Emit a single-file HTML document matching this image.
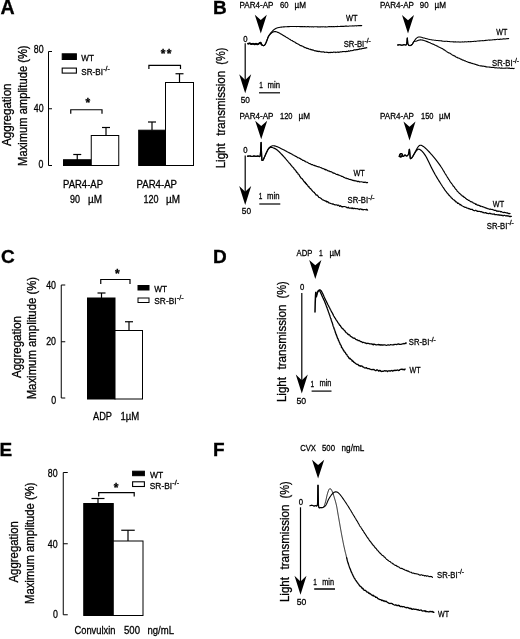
<!DOCTYPE html>
<html lang="en">
<head>
<meta charset="utf-8">
<title>Figure: SR-BI platelet aggregation</title>
<style>
html,body{margin:0;padding:0;background:#fff;}
body{width:520px;height:639px;overflow:hidden;}
svg{display:block;}
svg text{font-family:"Liberation Sans", sans-serif;fill:#000;stroke:#000;stroke-width:0.3px;}
</style>
</head>
<body>
<svg width="520" height="639" viewBox="0 0 520 639">
<rect x="0" y="0" width="520" height="639" fill="#fff"/>
<text x="0.6" y="14.2" font-size="19.6" font-weight="bold">A</text>
<text x="213.1" y="14.2" font-size="19" font-weight="bold">B</text>
<text x="0.9" y="263.1" font-size="19" font-weight="bold">C</text>
<text x="213.1" y="262.6" font-size="19" font-weight="bold">D</text>
<text x="-0.4" y="456" font-size="19" font-weight="bold">E</text>
<text x="213" y="455.7" font-size="19" font-weight="bold">F</text>
<path d="M52.0,51.5L48.5,51.5L48.5,165.5L52.0,165.5" fill="none" stroke="#000" stroke-width="1" stroke-linejoin="miter" stroke-linecap="butt"/>
<line x1="48.5" y1="108.75" x2="52.0" y2="108.75" stroke="#000" stroke-width="1"/>
<text x="43.6" y="53" font-size="10.7" text-anchor="end" textLength="9.8" lengthAdjust="spacingAndGlyphs">80</text>
<text x="43.6" y="112" font-size="10.7" text-anchor="end" textLength="9.8" lengthAdjust="spacingAndGlyphs">40</text>
<text x="43.4" y="168.4" font-size="10.7" text-anchor="end" textLength="4.9" lengthAdjust="spacingAndGlyphs">0</text>
<text transform="translate(11.3,114.7) rotate(-90)" font-size="12.5" text-anchor="middle" textLength="62.5" lengthAdjust="spacingAndGlyphs" xml:space="preserve">Aggregation</text>
<text transform="translate(27.4,105.65) rotate(-90)" font-size="12.5" text-anchor="middle" textLength="120.5" lengthAdjust="spacingAndGlyphs" xml:space="preserve">Maximum amplitude (%)</text>
<rect x="62.2" y="53.8" width="14.2" height="5.7" fill="#000" stroke="#000" stroke-width="1"/>
<rect x="62.2" y="68.1" width="14.2" height="5" fill="#fff" stroke="#000" stroke-width="1.1"/>
<text x="81.3" y="61" font-size="9.8" textLength="12.6" lengthAdjust="spacingAndGlyphs">WT</text>
<text x="81.3" y="74.6" font-size="9.8" textLength="21.66" lengthAdjust="spacingAndGlyphs">SR-BI</text>
<text x="103.25" y="70.88" font-size="7.45" textLength="6.56" lengthAdjust="spacingAndGlyphs">-/-</text>
<rect x="63.5" y="159.75" width="27.75" height="5.75" fill="#000" stroke="#000" stroke-width="1"/>
<rect x="91.25" y="135.5" width="27.5" height="30" fill="#fff" stroke="#000" stroke-width="1"/>
<line x1="77.25" y1="154.5" x2="77.25" y2="160" stroke="#000" stroke-width="1.2"/>
<line x1="73.25" y1="154.5" x2="81.25" y2="154.5" stroke="#000" stroke-width="1.2"/>
<line x1="106" y1="127.5" x2="106" y2="135.5" stroke="#000" stroke-width="1.2"/>
<line x1="102.0" y1="127.5" x2="110.0" y2="127.5" stroke="#000" stroke-width="1.2"/>
<path d="M70.75,113.75L70.75,109.75L102,109.75L102,113.75" fill="none" stroke="#000" stroke-width="1.2" stroke-linejoin="miter" stroke-linecap="butt"/>
<text x="87.8" y="107.1" font-size="12" font-weight="bold" text-anchor="middle">*</text>
<rect x="138.7" y="130.2" width="26.8" height="35.3" fill="#000" stroke="#000" stroke-width="1"/>
<rect x="165.5" y="82.5" width="28" height="83" fill="#fff" stroke="#000" stroke-width="1"/>
<line x1="152" y1="122" x2="152" y2="130" stroke="#000" stroke-width="1.2"/>
<line x1="148.0" y1="122" x2="156.0" y2="122" stroke="#000" stroke-width="1.2"/>
<line x1="179.5" y1="73.75" x2="179.5" y2="82.5" stroke="#000" stroke-width="1.2"/>
<line x1="175.5" y1="73.75" x2="183.5" y2="73.75" stroke="#000" stroke-width="1.2"/>
<path d="M148.9,69.1L148.9,65.3L180.5,65.3L180.5,69.1" fill="none" stroke="#000" stroke-width="1.2" stroke-linejoin="miter" stroke-linecap="butt"/>
<text x="163.2" y="58.0" font-size="12" font-weight="bold" text-anchor="middle">*</text>
<text x="169.2" y="58.0" font-size="12" font-weight="bold" text-anchor="middle">*</text>
<text x="63" y="187.5" font-size="11" textLength="40" lengthAdjust="spacingAndGlyphs">PAR4-AP</text>
<text x="70" y="202.5" font-size="11" textLength="10" lengthAdjust="spacingAndGlyphs">90</text>
<text x="88" y="202.5" font-size="11" textLength="14" lengthAdjust="spacingAndGlyphs">µM</text>
<text x="136.5" y="187.5" font-size="11" textLength="40.5" lengthAdjust="spacingAndGlyphs">PAR4-AP</text>
<text x="143.5" y="202.5" font-size="11" textLength="15" lengthAdjust="spacingAndGlyphs">120</text>
<text x="166" y="202.5" font-size="11" textLength="14" lengthAdjust="spacingAndGlyphs">µM</text>
<text transform="translate(224.7,168.3) rotate(-90)" font-size="13.6" textLength="25" lengthAdjust="spacingAndGlyphs">Light</text>
<text transform="translate(224.7,135.8) rotate(-90)" font-size="13.6" textLength="65" lengthAdjust="spacingAndGlyphs">transmission</text>
<text transform="translate(224.7,64.65) rotate(-90)" font-size="13.6" textLength="17.2" lengthAdjust="spacingAndGlyphs">(%)</text>
<text x="239.5" y="8.3" font-size="9.6" textLength="34" lengthAdjust="spacingAndGlyphs">PAR4-AP</text>
<text x="280" y="8.3" font-size="9.6" textLength="8.5" lengthAdjust="spacingAndGlyphs">60</text>
<text x="294.5" y="8.3" font-size="9.6" textLength="11.5" lengthAdjust="spacingAndGlyphs">µM</text>
<path d="M260.8,33.6L254.8,14.8L260.8,20.0L266.8,14.8Z" fill="#000"/>
<text x="247.6" y="41.5" font-size="8.5" text-anchor="end" textLength="4.3" lengthAdjust="spacingAndGlyphs">0</text>
<line x1="245.2" y1="43.3" x2="245.2" y2="81.0" stroke="#000" stroke-width="1.2"/>
<path d="M245.2,93.2L239.2,74.2L245.2,80.0L251.2,74.2Z" fill="#000"/>
<text x="240.7" y="102.5" font-size="9.6" textLength="9.2" lengthAdjust="spacingAndGlyphs">50</text>
<line x1="259" y1="92.8" x2="280" y2="92.8" stroke="#000" stroke-width="1.2"/>
<text x="259.3" y="87.6" font-size="9.6" textLength="3.6" lengthAdjust="spacingAndGlyphs">1</text>
<text x="267.5" y="87.6" font-size="9.6" textLength="12.5" lengthAdjust="spacingAndGlyphs">min</text>
<path d="M248.0,43.7L248.54,43.58L249.3,43.43L250.0,43.4L250.78,43.82L251.5,44.2L252.25,43.85L253.0,43.5L253.75,43.9L254.5,44.3L255.25,43.95L256.0,43.6L256.75,44.01L257.5,44.4L258.25,44.06L259.0,43.5L259.78,42.88L260.5,42.6L260.83,43.06L261.11,43.82L261.5,44.5L262.11,45.0L262.83,45.42L263.5,45.6L264.04,45.5L264.52,45.17L265.0,44.6L265.3,44.14L265.59,43.59L265.88,42.96L266.18,42.26L266.5,41.5L266.71,40.98L266.93,40.39L267.16,39.77L267.39,39.13L267.62,38.49L267.85,37.88L268.08,37.31L268.3,36.8L268.64,36.12L268.96,35.54L269.29,35.02L269.63,34.52L270.0,34.0L270.41,33.44L270.84,32.88L271.29,32.32L271.75,31.79L272.2,31.3L272.65,30.84L273.1,30.42L273.56,30.02L274.03,29.64L274.5,29.3L275.1,28.91L275.71,28.57L276.34,28.27L277.0,28.0L277.54,27.82L278.07,27.67L278.63,27.54L279.26,27.42L280.0,27.3L280.5,27.23L281.02,27.16L281.55,27.09L282.12,27.03L282.74,26.96L283.42,26.91L284.17,26.85L285.0,26.8L285.48,26.77L285.97,26.75L286.48,26.72L287.01,26.69L287.56,26.67L288.12,26.64L288.7,26.62L289.3,26.6L289.92,26.57L290.55,26.55L291.21,26.54L291.88,26.53L292.57,26.49L293.27,26.47L293.99,26.47L294.54,26.49L295.07,26.46L295.65,26.52L296.21,26.52L296.78,26.58L297.38,26.57L297.98,26.47L298.63,26.51L299.24,26.49L299.86,26.59L300.48,26.59L301.13,26.49L301.79,26.64L302.45,26.57L303.08,26.62L303.77,26.72L304.41,26.58L305.09,26.67L305.69,26.75L306.32,26.83L307.02,26.68L307.59,26.6L308.2,26.58L308.78,26.81L309.36,26.85L309.99,26.81L310.58,26.79L311.23,26.88L311.81,26.78L312.42,26.67L313.06,26.86L313.61,26.92L314.26,26.8L314.86,26.7L315.44,26.76L316.12,26.74L316.68,26.76L317.36,26.85L317.93,26.76L318.59,26.91L319.2,26.99L319.77,26.83L320.42,26.86L320.97,27.04L321.59,26.8L322.22,26.81L322.81,26.91L323.44,26.73L324.07,26.83L324.69,27.0L325.3,26.86L325.87,26.89L326.55,26.95L327.17,26.93L327.75,26.77L328.38,26.67L328.94,26.64L329.56,26.67L330.16,26.69L330.78,26.57L331.41,26.59L332.06,26.55L332.59,26.7L333.21,26.58L333.78,26.59L334.46,26.72L335.0,26.59L335.6,26.46L336.25,26.51L336.87,26.64L337.57,26.38L338.12,26.51L338.72,26.49L339.42,26.46L340.01,26.54L340.59,26.33L341.24,26.28L341.85,26.37L342.41,26.28L343.09,26.4L343.68,26.39L344.29,26.35L344.88,26.15L345.45,26.16L346.1,26.04L346.76,26.08L347.36,26.26L348.04,26.23L348.61,26.21L349.25,25.96L349.92,25.93L350.67,26.03L351.34,26.06L352.08,25.97L352.79,25.77L353.53,25.99L354.23,25.91L354.98,25.7L355.69,25.72L356.35,25.88L357.08,25.68L357.67,25.75L358.3,25.54L358.96,25.74L359.53,25.49L360.05,25.72L360.53,25.51L360.92,25.42L361.37,25.66L361.74,25.51" fill="none" stroke="#000" stroke-width="1.1" stroke-linejoin="round" stroke-linecap="round"/>
<path d="M248.0,43.7L248.54,43.58L249.3,43.43L250.0,43.4L250.78,43.82L251.5,44.2L252.25,43.85L253.0,43.5L253.75,43.9L254.5,44.3L255.25,43.95L256.0,43.6L256.75,44.01L257.5,44.4L258.25,44.06L259.0,43.5L259.78,42.88L260.5,42.6L260.83,43.06L261.11,43.82L261.5,44.5L262.11,45.0L262.83,45.42L263.5,45.6L264.04,45.5L264.52,45.17L265.0,44.6L265.3,44.14L265.59,43.59L265.88,42.96L266.18,42.26L266.5,41.5L266.71,40.97L266.93,40.38L267.16,39.75L267.39,39.1L267.62,38.46L267.85,37.84L268.08,37.28L268.3,36.8L268.73,36.05L269.14,35.48L269.56,34.99L270.0,34.5L270.48,33.97L270.98,33.46L271.49,33.0L272.0,32.6L272.63,32.18L273.26,31.87L274.0,31.7L274.49,31.64L274.98,31.59L275.54,31.61L276.19,31.74L277.0,32.0L277.41,32.17L277.84,32.36L278.28,32.57L278.75,32.81L279.24,33.07L279.77,33.35L280.32,33.66L280.92,34.0L281.56,34.37L282.26,34.77L283.0,35.2L283.42,35.44L283.85,35.7L284.31,35.97L284.79,36.26L285.29,36.56L285.79,36.88L286.31,37.18L286.85,37.5L287.39,37.83L287.96,38.14L288.5,38.51L289.08,38.88L289.64,39.2L290.19,39.56L290.71,39.9L291.28,40.22L291.89,40.43L292.41,40.79L292.96,41.27L293.48,41.45L294.03,41.82L294.57,41.97L295.1,42.33L295.68,42.87L296.27,43.09L296.78,43.57L297.34,43.74L297.91,43.99L298.44,44.27L299.05,44.58L299.59,45.0L300.03,45.44L300.7,45.5L301.1,45.95L301.7,45.79L302.22,46.03L302.85,46.29L303.45,46.98L303.98,46.85L304.44,47.4L305.15,47.77L305.72,47.6L306.21,47.94L306.85,48.51L307.36,48.24L307.92,48.66L308.5,48.68L309.04,49.2L309.7,49.29L310.26,49.16L310.88,49.71L311.55,49.56L312.13,50.16L312.59,49.92L313.26,50.04L313.72,50.34L314.43,50.58L314.89,50.96L315.58,50.69L316.17,51.08L316.68,50.93L317.36,51.41L318.07,51.15L318.66,51.6L319.29,51.36L319.9,51.44L320.42,51.76L321.13,51.89L321.6,51.79L322.23,52.01L322.83,51.82L323.45,51.84L324.09,52.05L324.71,52.37L325.31,52.26L325.91,52.21L326.51,52.19L327.21,52.51L327.8,52.21L328.34,52.68L329.01,52.62L329.69,52.44L330.24,52.39L330.94,52.57L331.53,52.36L332.11,52.58L332.67,52.39L333.25,52.17L333.97,52.16L334.49,52.25L335.22,52.13L335.81,52.58L336.34,52.2L336.99,52.18L337.6,52.06L338.31,52.09L338.85,52.47L339.54,51.99L340.04,51.98L340.66,51.75L341.3,51.97L341.92,51.75L342.49,51.57L343.13,51.56L343.67,51.46L344.32,51.55L344.99,51.65L345.62,51.67L346.26,51.57L346.77,51.3L347.34,51.57L348.03,51.33L348.69,50.83L349.29,51.25L349.97,51.05L350.55,50.59L351.25,50.69L351.89,50.76L352.53,50.51L353.13,50.45L353.64,50.06L354.33,49.88L355.03,49.74L355.6,49.9L356.22,49.82L356.69,49.62L357.41,49.69L357.94,49.41L358.42,49.4L359.14,49.31L359.84,48.79L360.54,49.05L361.38,48.92L361.98,48.64L362.72,48.5L363.38,48.54L363.92,48.34L364.56,47.93L365.14,48.18L365.61,47.97L366.12,47.58L366.6,47.87L366.86,47.81" fill="none" stroke="#000" stroke-width="1.15" stroke-linejoin="round" stroke-linecap="round"/>
<path d="M248,43.7C248.33,43.65 249.42,43.32 250,43.4C250.58,43.48 251.00,44.18 251.5,44.2C252.00,44.22 252.50,43.48 253,43.5C253.50,43.52 254.00,44.28 254.5,44.3C255.00,44.32 255.50,43.58 256,43.6C256.50,43.62 257.00,44.42 257.5,44.4C258.00,44.38 258.50,43.80 259,43.5C259.50,43.20 260.08,42.43 260.5,42.6C260.92,42.77 261.33,44.18 261.5,44.5" fill="none" stroke="#000" stroke-width="1.7" stroke-linejoin="round" stroke-linecap="round"/>
<text x="346" y="20.9" font-size="9.6" textLength="11.5" lengthAdjust="spacingAndGlyphs">WT</text>
<text x="343.7" y="46.6" font-size="9.6" textLength="20.52" lengthAdjust="spacingAndGlyphs">SR-BI</text>
<text x="364.49" y="42.88" font-size="6.84" textLength="6.21" lengthAdjust="spacingAndGlyphs">-/-</text>
<text x="380" y="8.3" font-size="9.6" textLength="34" lengthAdjust="spacingAndGlyphs">PAR4-AP</text>
<text x="419.8" y="8.3" font-size="9.6" textLength="8.8" lengthAdjust="spacingAndGlyphs">90</text>
<text x="434.5" y="8.3" font-size="9.6" textLength="11.5" lengthAdjust="spacingAndGlyphs">µM</text>
<path d="M408,33.6L402.0,15.0L408,20.2L414.0,15.0Z" fill="#000"/>
<path d="M397.5,45.0L397.96,44.95L398.62,44.88L399.35,44.81L400.0,44.8L400.7,44.92L401.35,45.11L402.0,45.2L402.67,45.07L403.33,44.84L404.0,44.7L404.71,44.83L405.42,45.04L406.0,45.0L406.37,44.61L406.6,43.97L406.8,43.0L406.88,42.45L406.95,41.73L407.01,40.91L407.07,40.06L407.13,39.27L407.18,38.62L407.24,38.17L407.3,38.0L407.36,38.17L407.42,38.62L407.48,39.27L407.54,40.06L407.6,40.91L407.66,41.73L407.73,42.45L407.8,43.0L407.99,43.94L408.2,44.55L408.5,45.0L409.17,45.49L410.0,45.6L410.63,45.43L411.31,45.07L412.0,44.5L412.33,44.11L412.67,43.64L413.0,43.11L413.33,42.56L413.67,42.02L414.0,41.5L414.39,40.89L414.78,40.27L415.16,39.66L415.57,39.1L416.0,38.6L416.59,38.07L417.22,37.61L417.86,37.24L418.5,37.0L419.09,36.9L419.66,36.93L420.27,37.04L421.0,37.2L421.56,37.33L422.15,37.49L422.78,37.68L423.46,37.88L424.2,38.09L425.0,38.3L425.51,38.43L426.02,38.57L426.56,38.71L427.11,38.85L427.69,39.0L428.29,39.15L428.92,39.29L429.58,39.43L430.27,39.57L431.0,39.7L431.51,39.79L432.05,39.88L432.59,39.92L433.17,40.04L433.74,40.1L434.35,40.15L434.95,40.22L435.56,40.28L436.17,40.45L436.82,40.51L437.46,40.59L438.11,40.56L438.7,40.67L439.36,40.64L439.99,40.79L440.59,40.78L441.23,40.88L441.83,40.86L442.4,41.11L443.07,41.2L443.66,41.25L444.3,41.16L444.95,41.39L445.56,41.25L446.17,41.28L446.87,41.27L447.52,41.37L448.09,41.4L448.72,41.52L449.41,41.52L450.03,41.72L450.66,41.68L451.25,41.81L451.83,41.78L452.5,41.82L453.14,41.86L453.71,41.75L454.34,41.97L454.99,41.87L455.65,41.84L456.23,42.07L456.86,41.99L457.49,41.98L458.09,41.88L458.79,41.9L459.35,42.0L460.04,42.12L460.59,41.98L461.21,41.9L461.84,41.93L462.48,41.89L463.16,41.97L463.74,42.0L464.38,41.87L464.99,41.83L465.6,41.71L466.22,41.95L466.89,41.78L467.47,41.85L468.1,41.64L468.75,41.64L469.41,41.77L469.96,41.71L470.64,41.43L471.22,41.65L471.77,41.52L472.44,41.43L473.02,41.52L473.55,41.52L474.13,41.22L474.77,41.31L475.37,41.39L475.98,41.26L476.58,41.15L477.24,40.98L477.92,40.99L478.54,41.06L479.24,40.85L480.02,40.94L480.49,40.74L481.08,40.82L481.6,40.73L482.15,40.75L482.76,40.61L483.37,40.76L483.94,40.68L484.53,40.44L485.18,40.6L485.73,40.35L486.42,40.35L487.0,40.27L487.7,40.29L488.25,40.1L488.92,40.08L489.54,40.13L490.23,40.11L490.82,39.96L491.46,40.05L492.09,39.95L492.77,39.72L493.42,39.69L493.97,39.7L494.6,39.57L495.28,39.65L495.89,39.44L496.61,39.41L497.21,39.34L497.94,39.26L498.69,39.46L499.41,39.36L500.06,39.36L500.82,39.08L501.44,39.2L502.16,39.12L502.84,38.99L503.48,38.88L504.15,38.86L504.76,39.02L505.37,38.98L505.99,38.75L506.5,38.85L507.0,38.58L507.51,38.65L507.88,38.56L508.23,38.74L508.63,38.57" fill="none" stroke="#000" stroke-width="1.05" stroke-linejoin="round" stroke-linecap="round"/>
<path d="M397.5,45.0L397.96,44.95L398.62,44.88L399.35,44.81L400.0,44.8L400.7,44.92L401.35,45.11L402.0,45.2L402.67,45.07L403.33,44.84L404.0,44.7L404.71,44.83L405.42,45.04L406.0,45.0L406.37,44.61L406.6,43.97L406.8,43.0L406.88,42.45L406.95,41.73L407.01,40.91L407.07,40.06L407.13,39.27L407.18,38.62L407.24,38.17L407.3,38.0L407.36,38.17L407.42,38.62L407.48,39.27L407.54,40.06L407.6,40.91L407.66,41.73L407.73,42.45L407.8,43.0L407.99,43.94L408.2,44.55L408.5,45.0L409.17,45.49L410.0,45.6L410.63,45.43L411.31,45.07L412.0,44.5L412.33,44.08L412.67,43.54L413.0,42.94L413.33,42.36L413.67,41.86L414.0,41.5L414.65,41.26L415.3,41.32L416.0,41.3L416.59,41.09L417.22,40.81L417.86,40.53L418.5,40.3L419.11,40.13L419.72,40.0L420.34,39.92L421.0,39.9L421.52,39.93L422.02,39.99L422.56,40.09L423.2,40.26L424.0,40.5L424.46,40.65L424.94,40.81L425.45,40.99L425.99,41.18L426.56,41.39L427.17,41.63L427.81,41.88L428.5,42.16L429.22,42.47L430.0,42.8L430.45,42.99L430.93,43.22L431.44,43.44L431.95,43.65L432.49,43.93L433.04,44.12L433.59,44.37L434.18,44.58L434.76,44.98L435.31,45.27L435.92,45.41L436.55,45.85L437.09,46.01L437.7,46.3L438.26,46.73L438.89,47.0L439.46,47.3L439.98,47.54L440.51,47.72L441.01,48.18L441.61,48.27L442.05,48.59L442.64,48.81L443.22,49.25L443.75,49.82L444.15,49.86L444.74,50.1L445.26,50.73L445.78,50.82L446.34,51.35L446.89,51.74L447.31,52.02L447.86,52.43L448.4,52.61L448.9,53.01L449.44,53.07L450.06,53.33L450.53,53.85L451.18,54.07L451.63,54.44L452.25,54.9L452.72,55.3L453.38,55.35L453.95,55.84L454.41,55.75L454.95,56.08L455.57,56.81L456.09,57.08L456.66,57.34L457.26,57.32L457.72,57.95L458.35,58.05L458.87,58.13L459.4,58.36L460.01,58.68L460.54,59.15L461.15,59.09L461.72,59.69L462.31,59.76L462.95,60.26L463.47,60.14L464.13,60.55L464.64,60.91L465.32,60.9L465.85,61.26L466.54,61.43L467.07,61.66L467.63,61.9L468.31,62.36L468.78,62.32L469.37,62.71L470.06,62.55L470.64,62.96L471.23,63.14L471.71,63.36L472.36,63.32L473.0,63.82L473.55,63.72L474.12,64.03L474.67,64.09L475.36,64.44L475.88,64.4L476.54,64.9L477.0,64.75L477.72,65.27L478.17,65.18L478.81,65.55L479.43,65.67L479.95,65.76L480.58,65.88L481.3,65.82L481.83,66.15L482.48,65.96L483.11,66.22L483.71,66.13L484.43,66.54L485.01,66.3L485.56,66.75L486.19,66.88L486.88,66.85L487.47,66.95L488.14,66.93L488.77,67.01L489.37,67.1L490.02,66.96L490.58,67.27L491.26,67.47L491.77,67.38L492.34,67.45L492.97,67.34L493.56,67.37L494.08,67.63L494.67,67.74L495.38,67.84L495.88,67.77L496.55,67.81L497.15,68.07L497.94,68.06L498.6,68.04L499.33,67.81L500.07,68.0L500.5,68.23L501.2,68.19L501.73,67.86L502.35,68.23L503.04,68.32L503.71,68.3L504.53,68.17L505.15,68.04L505.89,68.21L506.59,67.99L507.43,68.07L508.14,68.35L508.83,68.11L509.48,68.1L510.12,68.37L510.8,68.51L511.46,68.37L512.05,68.15L512.5,68.42L512.98,68.52L513.48,68.63L513.9,68.32L514.15,68.37" fill="none" stroke="#000" stroke-width="1.1" stroke-linejoin="round" stroke-linecap="round"/>
<text x="496.25" y="35.3" font-size="9.6" textLength="11" lengthAdjust="spacingAndGlyphs">WT</text>
<text x="492" y="66.3" font-size="9.6" textLength="20.52" lengthAdjust="spacingAndGlyphs">SR-BI</text>
<text x="512.79" y="62.58" font-size="6.84" textLength="6.21" lengthAdjust="spacingAndGlyphs">-/-</text>
<text x="239.5" y="118.8" font-size="9.6" textLength="34" lengthAdjust="spacingAndGlyphs">PAR4-AP</text>
<text x="280" y="118.8" font-size="9.6" textLength="12.5" lengthAdjust="spacingAndGlyphs">120</text>
<text x="298.5" y="118.8" font-size="9.6" textLength="11.5" lengthAdjust="spacingAndGlyphs">µM</text>
<path d="M261.2,139.3L255.2,120.80000000000001L261.2,126.00000000000001L267.2,120.80000000000001Z" fill="#000"/>
<text x="247.6" y="153.4" font-size="8.5" text-anchor="end" textLength="4.3" lengthAdjust="spacingAndGlyphs">0</text>
<line x1="245.2" y1="155.5" x2="245.2" y2="192.8" stroke="#000" stroke-width="1.2"/>
<path d="M245.2,205L239.2,186L245.2,191.8L251.2,186Z" fill="#000"/>
<text x="241.8" y="214.4" font-size="9.6" textLength="9.2" lengthAdjust="spacingAndGlyphs">50</text>
<line x1="259.3" y1="204" x2="280.3" y2="204" stroke="#000" stroke-width="1.2"/>
<text x="258.7" y="199.0" font-size="9.6" textLength="3.6" lengthAdjust="spacingAndGlyphs">1</text>
<text x="267" y="199.0" font-size="9.6" textLength="12.5" lengthAdjust="spacingAndGlyphs">min</text>
<path d="M247.5,156.2L247.96,156.15L248.62,156.07L249.35,156.01L250.0,156.0L250.7,156.15L251.35,156.38L252.0,156.5L252.67,156.37L253.33,156.14L254.0,156.0L254.67,156.1L255.33,156.29L256.0,156.4L256.67,156.3L257.33,156.12L258.0,156.0L258.71,156.26L259.43,156.59L260.0,156.2L260.12,155.85L260.23,155.39L260.31,154.85L260.39,154.24L260.45,153.58L260.5,152.88L260.55,152.16L260.6,151.43L260.65,150.7L260.7,150.0L260.74,149.37L260.78,148.63L260.82,147.82L260.86,146.97L260.89,146.11L260.92,145.27L260.95,144.49L260.98,143.79L261.01,143.21L261.04,142.78L261.07,142.53L261.1,142.5L261.13,142.64L261.15,142.92L261.18,143.33L261.2,143.84L261.23,144.44L261.26,145.12L261.28,145.86L261.31,146.65L261.33,147.46L261.36,148.28L261.39,149.1L261.41,149.89L261.44,150.65L261.47,151.36L261.5,152.0L261.53,152.66L261.56,153.34L261.59,154.05L261.62,154.76L261.65,155.47L261.68,156.17L261.71,156.86L261.75,157.53L261.78,158.15L261.82,158.74L261.86,159.28L261.9,159.76L261.95,160.17L262.0,160.5L263.0,160.2L263.26,159.77L263.54,159.19L263.84,158.51L264.16,157.77L264.5,157.0L264.72,156.5L264.95,155.97L265.19,155.41L265.44,154.83L265.69,154.24L265.95,153.66L266.22,153.07L266.5,152.5L266.78,151.92L267.07,151.32L267.36,150.71L267.66,150.11L267.97,149.52L268.29,148.96L268.64,148.45L269.0,148.0L269.53,147.47L270.09,147.0L270.69,146.59L271.3,146.25L271.91,145.98L272.5,145.8L273.19,145.71L273.88,145.75L274.56,145.88L275.27,146.08L276.0,146.3L276.49,146.45L276.93,146.6L277.36,146.76L277.84,146.96L278.41,147.22L279.11,147.56L280.0,148.0L280.41,148.2L280.85,148.42L281.32,148.66L281.82,148.91L282.34,149.18L282.89,149.46L283.45,149.75L284.03,150.05L284.62,150.36L285.23,150.68L285.83,151.0L286.45,151.32L287.06,151.64L287.65,151.94L288.25,152.21L288.85,152.61L289.46,152.9L289.98,153.13L290.49,153.52L291.04,153.65L291.57,153.95L292.11,154.27L292.6,154.67L293.16,154.97L293.73,155.1L294.17,155.43L294.75,155.66L295.3,156.26L295.76,156.36L296.34,156.48L296.82,157.02L297.36,157.35L297.93,157.8L298.49,157.72L298.95,157.89L299.43,158.37L300.05,158.44L300.56,158.7L301.05,159.55L301.69,159.4L302.25,159.87L302.72,160.35L303.3,160.33L303.96,160.47L304.48,161.19L305.06,161.01L305.55,161.73L306.1,162.01L306.6,161.98L307.14,162.25L307.82,162.58L308.4,163.06L308.85,163.33L309.43,163.48L310.0,163.87L310.61,163.81L311.13,164.48L311.68,164.67L312.31,164.53L313.02,165.05L313.5,165.27L314.09,165.57L314.78,165.4L315.33,165.85L315.97,166.08L316.53,166.17L317.12,166.52L317.69,166.58L318.2,166.88L318.85,166.88L319.49,167.02L319.91,167.29L320.67,167.49L321.11,167.87L321.68,167.91L322.38,168.54L322.98,168.77L323.55,168.63L324.17,169.04L324.78,169.55L325.36,169.33L325.96,170.08L326.42,169.83L326.98,170.07L327.7,170.75L328.29,170.86L328.79,171.1L329.34,171.02L329.95,171.65L330.54,171.62L331.07,171.67L331.71,172.06L332.19,172.35L332.78,172.94L333.35,173.11L333.87,172.86L334.49,173.34L335.04,173.52L335.5,173.87L336.04,174.3L336.61,174.51L337.17,174.26L337.86,174.95L338.33,174.72L338.94,175.24L339.44,175.29L340.06,175.61L340.67,175.79L341.13,176.04L341.76,176.53L342.38,176.42L342.99,176.64L343.58,177.25L344.09,177.44L344.69,177.54L345.22,178.07L345.8,178.3L346.43,178.11L347.06,178.75L347.72,178.65L348.23,178.76L348.87,179.14L349.44,179.47L349.97,179.41L350.65,179.47L351.24,179.95L351.79,179.82L352.42,180.34L353.01,180.11L353.58,180.72L354.21,180.45L354.91,180.9L355.4,180.7L356.03,180.89L356.59,181.18L357.19,181.18L357.86,181.69L358.47,181.27L358.92,181.37L359.53,182.0L359.99,181.94L360.76,181.73L361.43,181.78L362.14,182.04L363.02,182.12L363.68,182.36L364.37,182.37L365.05,182.12L365.69,182.32L366.2,182.66L366.76,182.49L367.1,182.42L367.57,182.63" fill="none" stroke="#000" stroke-width="1.15" stroke-linejoin="round" stroke-linecap="round"/>
<path d="M247.5,156.2L247.96,156.15L248.62,156.07L249.35,156.01L250.0,156.0L250.7,156.15L251.35,156.38L252.0,156.5L252.67,156.37L253.33,156.14L254.0,156.0L254.67,156.1L255.33,156.29L256.0,156.4L256.67,156.3L257.33,156.12L258.0,156.0L258.71,156.26L259.43,156.59L260.0,156.2L260.12,155.85L260.23,155.39L260.31,154.85L260.39,154.24L260.45,153.58L260.5,152.88L260.55,152.16L260.6,151.43L260.65,150.7L260.7,150.0L260.74,149.37L260.78,148.63L260.82,147.82L260.86,146.97L260.89,146.11L260.92,145.27L260.95,144.49L260.98,143.79L261.01,143.21L261.04,142.78L261.07,142.53L261.1,142.5L261.13,142.64L261.15,142.92L261.18,143.33L261.2,143.84L261.23,144.44L261.26,145.12L261.28,145.86L261.31,146.65L261.33,147.46L261.36,148.28L261.39,149.1L261.41,149.89L261.44,150.65L261.47,151.36L261.5,152.0L261.53,152.66L261.56,153.34L261.59,154.05L261.62,154.76L261.65,155.47L261.68,156.17L261.71,156.86L261.75,157.53L261.78,158.15L261.82,158.74L261.86,159.28L261.9,159.76L261.95,160.17L262.0,160.5L263.0,160.2L263.26,159.77L263.54,159.19L263.84,158.51L264.16,157.77L264.5,157.0L264.73,156.49L264.96,155.95L265.21,155.37L265.47,154.78L265.73,154.19L265.99,153.6L266.25,153.03L266.5,152.5L266.79,151.91L267.07,151.31L267.36,150.73L267.64,150.18L267.93,149.66L268.21,149.2L268.5,148.8L269.15,148.13L269.8,147.73L270.5,147.5L271.04,147.41L271.59,147.41L272.22,147.53L273.0,147.8L273.45,147.97L273.91,148.15L274.41,148.35L274.94,148.59L275.5,148.88L276.12,149.26L276.78,149.72L277.5,150.3L277.86,150.61L278.23,150.94L278.61,151.29L279.01,151.66L279.41,152.05L279.82,152.46L280.25,152.89L280.69,153.33L281.13,153.79L281.58,154.26L282.05,154.76L282.52,155.26L283.0,155.78L283.49,156.32L283.98,156.87L284.49,157.43L285.0,158.0L285.34,158.39L285.69,158.79L286.04,159.17L286.4,159.57L286.77,160.06L287.13,160.48L287.51,160.9L287.89,161.38L288.3,161.85L288.68,162.2L289.05,162.82L289.49,163.22L289.85,163.55L290.27,164.06L290.64,164.83L291.05,164.99L291.47,165.66L291.86,166.14L292.24,166.78L292.71,167.06L293.07,167.44L293.48,168.02L293.92,168.35L294.14,168.96L294.59,169.38L294.98,169.68L295.43,170.42L295.72,170.84L296.21,171.22L296.54,172.25L296.99,172.17L297.24,172.79L297.76,173.06L298.11,174.13L298.48,174.32L298.97,174.59L299.27,175.19L299.71,176.13L299.94,176.28L300.27,176.85L300.73,177.63L301.08,178.13L301.46,178.14L301.83,178.67L302.37,178.73L302.62,179.49L303.07,179.98L303.5,180.58L303.8,181.28L304.34,182.01L304.71,181.6L305.09,182.91L305.52,182.63L305.7,183.62L306.4,183.49L306.62,184.63L307.02,184.58L307.64,185.21L307.89,185.82L308.51,186.87L308.98,186.62L309.38,187.55L309.84,188.1L310.26,188.69L310.64,188.58L311.08,189.38L311.55,189.75L311.78,190.31L312.16,190.44L312.54,191.13L312.97,191.53L313.48,191.96L313.98,192.41L314.36,192.27L314.65,193.11L315.1,193.67L315.51,193.89L315.93,194.97L316.6,195.11L317.08,194.94L317.66,196.01L318.14,196.06L318.45,196.62L318.77,197.37L319.39,197.54L319.91,197.49L320.23,197.84L320.76,198.32L321.11,198.31L321.6,198.83L321.97,199.53L322.47,199.83L323.0,199.86L323.77,200.19L324.27,200.64L324.67,200.61L325.3,200.85L325.9,201.45L326.44,201.1L326.95,202.19L327.45,201.59L328.01,201.78L328.74,202.94L329.43,202.91L330.03,203.41L330.56,203.31L331.09,203.58L331.53,203.75L332.17,203.93L332.64,204.21L333.21,203.82L334.06,204.6L334.5,204.66L335.23,205.01L335.69,204.92L336.35,204.84L336.96,205.02L337.72,205.52L338.22,205.09L338.69,205.24L339.43,206.16L339.98,206.42L340.59,205.67L341.38,206.4L341.87,206.93L342.38,206.5L343.04,206.87L343.6,206.51L344.43,206.49L345.14,206.73L345.74,206.82L346.11,206.98L346.8,207.69L347.41,207.81L348.21,207.24L348.86,208.01L349.25,208.13L350.06,208.13L350.76,208.06L351.41,207.95L351.76,208.5L352.6,207.89L353.08,208.77L353.93,208.35L354.62,208.28L355.02,208.67L355.82,208.63L356.49,208.77L357.15,208.54L357.72,208.82L358.26,209.15L358.96,208.97L359.53,209.59L359.94,209.27L360.88,208.83L361.58,209.54L362.26,209.24L363.06,209.94L363.62,209.62L364.49,209.5L365.09,209.5L365.77,209.77L366.15,210.01L366.64,209.24L367.17,209.7L367.62,210.12" fill="none" stroke="#000" stroke-width="1.2" stroke-linejoin="round" stroke-linecap="round"/>
<text x="353.5" y="175.7" font-size="9.6" textLength="11.3" lengthAdjust="spacingAndGlyphs">WT</text>
<text x="347.5" y="203.3" font-size="9.6" textLength="20.52" lengthAdjust="spacingAndGlyphs">SR-BI</text>
<text x="368.29" y="199.58" font-size="6.84" textLength="6.21" lengthAdjust="spacingAndGlyphs">-/-</text>
<text x="380" y="118.8" font-size="9.6" textLength="34" lengthAdjust="spacingAndGlyphs">PAR4-AP</text>
<text x="421" y="118.8" font-size="9.6" textLength="12.5" lengthAdjust="spacingAndGlyphs">150</text>
<text x="439" y="118.8" font-size="9.6" textLength="11.5" lengthAdjust="spacingAndGlyphs">µM</text>
<path d="M409.5,140.4L403.5,121.5L409.5,126.7L415.5,121.5Z" fill="#000"/>
<path d="M399.2,156.5L399.33,156.05L399.51,155.39L399.73,154.71L400.0,154.2L400.73,153.67L401.5,153.6L402.22,154.15L402.6,155.0L402.35,155.64L401.84,156.33L401.3,156.8L400.33,156.86L399.8,156.6L400.29,156.33L401.18,155.99L402.0,155.8L402.79,156.08L403.5,156.3L404.0,155.91L404.5,155.33L405.0,155.0L405.51,155.23L406.01,155.71L406.5,156.0L407.18,155.8L407.8,155.2L408.08,154.78L408.34,154.28L408.59,153.69L408.8,153.0L408.92,152.37L409.03,151.57L409.13,150.72L409.22,149.97L409.31,149.45L409.4,149.3L409.48,149.53L409.55,150.03L409.62,150.73L409.69,151.55L409.76,152.42L409.83,153.26L409.9,154.0L409.97,154.71L410.03,155.47L410.09,156.24L410.16,156.98L410.23,157.65L410.31,158.21L410.4,158.6L411.3,158.2L411.75,157.86L412.3,157.2L412.59,156.74L412.92,156.18L413.26,155.55L413.63,154.88L414.0,154.2L414.27,153.71L414.55,153.19L414.84,152.65L415.13,152.11L415.42,151.56L415.71,151.02L416.0,150.5L416.33,149.88L416.67,149.25L417.0,148.62L417.33,148.03L417.67,147.48L418.0,147.0L418.49,146.39L418.97,145.89L419.46,145.52L420.0,145.3L420.57,145.24L421.17,145.33L421.81,145.56L422.5,145.9L422.92,146.15L423.36,146.45L423.81,146.79L424.28,147.16L424.77,147.57L425.27,148.02L425.8,148.5L426.18,148.85L426.55,149.21L426.94,149.58L427.33,149.97L427.73,150.38L428.15,150.8L428.58,151.26L429.03,151.74L429.5,152.25L430.0,152.8L430.35,153.19L430.71,153.59L431.09,154.02L431.48,154.45L431.89,154.91L432.29,155.37L432.71,155.85L433.13,156.33L433.55,156.82L433.97,157.31L434.39,157.81L434.8,158.31L435.21,158.81L435.61,159.31L436.0,159.8L436.38,160.29L436.76,160.79L437.14,161.29L437.52,161.79L437.89,162.29L438.26,162.8L438.63,163.31L439.0,163.83L439.36,164.34L439.72,164.86L440.08,165.38L440.44,165.92L440.79,166.44L441.15,166.99L441.51,167.51L441.82,167.99L442.16,168.52L442.47,168.99L442.77,169.6L443.1,170.08L443.39,170.58L443.72,171.07L444.02,171.69L444.34,172.08L444.61,172.75L444.97,173.23L445.25,173.83L445.56,174.25L445.84,174.69L446.2,175.2L446.51,175.76L446.84,176.31L447.14,176.77L447.52,177.61L447.9,177.83L448.19,178.63L448.57,179.1L448.88,179.61L449.35,179.94L449.64,180.84L449.96,181.23L450.33,181.85L450.72,182.45L451.1,182.89L451.29,183.09L451.65,183.54L452.01,184.01L452.53,184.8L452.92,185.26L453.13,186.05L453.56,186.36L454.03,186.54L454.32,187.11L454.77,187.84L455.01,188.33L455.33,188.63L455.87,189.44L456.03,189.37L456.47,189.83L457.01,190.78L457.22,191.21L457.75,191.63L458.18,191.97L458.39,191.98L458.95,192.9L459.23,193.27L459.76,193.65L460.15,193.76L460.64,194.34L461.23,194.99L461.63,195.15L462.03,195.81L462.52,196.19L463.14,196.09L463.62,196.59L464.11,197.42L464.53,197.3L465.15,197.65L465.62,198.56L466.1,198.67L466.67,199.31L467.15,199.55L467.69,199.63L468.35,200.34L468.97,200.29L469.43,200.71L469.95,200.96L470.49,201.73L471.05,201.56L471.68,201.95L472.24,202.08L472.77,202.32L473.18,203.02L473.75,203.15L474.29,203.26L475.02,203.59L475.57,204.28L476.01,203.9L476.53,204.7L477.14,204.82L477.65,205.23L478.28,205.34L478.78,205.1L479.45,205.81L479.99,205.58L480.53,206.32L481.1,206.3L481.82,206.25L482.29,206.83L482.85,206.6L483.53,207.17L484.06,207.13L484.75,207.56L485.31,207.89L485.79,207.65L486.45,208.21L486.97,208.38L487.61,208.62L488.31,208.82L488.72,208.75L489.41,209.22L489.95,209.36L490.66,209.05L491.11,209.34L491.78,209.51L492.36,209.41L492.94,209.87L493.57,209.8L494.19,210.43L494.75,210.23L495.35,210.42L495.96,210.34L496.47,211.1L497.07,210.94L497.55,211.09L498.18,211.53L498.74,211.11L499.48,211.29L499.92,211.27L500.58,211.88L501.34,211.55L502.02,212.09L502.65,212.32L503.51,212.59L504.11,212.16L504.91,212.61L505.55,212.6L506.24,212.82L507.06,213.08L507.63,212.89L508.13,213.42L508.84,213.58L509.21,213.37L509.66,213.77L510.09,213.53" fill="none" stroke="#000" stroke-width="1.15" stroke-linejoin="round" stroke-linecap="round"/>
<path d="M399.2,156.5L399.33,156.05L399.51,155.39L399.73,154.71L400.0,154.2L400.73,153.67L401.5,153.6L402.22,154.15L402.6,155.0L402.35,155.64L401.84,156.33L401.3,156.8L400.33,156.86L399.8,156.6L400.29,156.33L401.18,155.99L402.0,155.8L402.79,156.08L403.5,156.3L404.0,155.91L404.5,155.33L405.0,155.0L405.51,155.23L406.01,155.71L406.5,156.0L407.18,155.8L407.8,155.2L408.08,154.78L408.34,154.28L408.59,153.69L408.8,153.0L408.92,152.37L409.03,151.57L409.13,150.72L409.22,149.97L409.31,149.45L409.4,149.3L409.48,149.53L409.55,150.03L409.62,150.73L409.69,151.55L409.76,152.42L409.83,153.26L409.9,154.0L409.97,154.71L410.03,155.47L410.09,156.24L410.16,156.98L410.23,157.65L410.31,158.21L410.4,158.6L411.3,158.2L411.75,157.86L412.3,157.2L412.59,156.74L412.92,156.19L413.26,155.57L413.63,154.92L414.0,154.3L414.32,153.78L414.66,153.23L415.01,152.67L415.36,152.13L415.69,151.63L416.0,151.2L416.54,150.51L417.03,149.99L417.5,149.6L418.14,149.26L418.8,149.2L419.31,149.29L419.86,149.5L420.5,149.9L420.94,150.25L421.43,150.67L421.94,151.15L422.47,151.7L423.0,152.3L423.34,152.71L423.68,153.14L424.03,153.59L424.39,154.07L424.74,154.57L425.1,155.09L425.45,155.64L425.8,156.2L426.1,156.72L426.39,157.25L426.68,157.8L426.97,158.37L427.26,158.95L427.55,159.56L427.85,160.18L428.17,160.83L428.5,161.5L428.76,162.02L429.02,162.56L429.28,163.12L429.56,163.69L429.83,164.27L430.11,164.86L430.4,165.46L430.69,166.07L430.98,166.68L431.28,167.28L431.59,167.89L431.9,168.5L432.17,169.02L432.45,169.55L432.73,170.09L433.02,170.64L433.32,171.18L433.61,171.73L433.91,172.28L434.21,172.83L434.51,173.37L434.82,173.92L435.12,174.45L435.41,174.98L435.71,175.49L436.0,176.0L436.33,176.57L436.66,177.13L436.98,177.67L437.3,178.2L437.62,178.73L437.94,179.25L438.27,179.77L438.6,180.3L438.93,180.83L439.28,181.37L439.63,181.93L440.0,182.5L440.3,182.97L440.62,183.46L440.94,183.97L441.27,184.48L441.59,184.93L441.94,185.54L442.26,185.97L442.6,186.54L442.93,187.04L443.3,187.54L443.62,187.96L444.0,188.67L444.34,189.17L444.7,189.62L444.96,190.12L445.36,190.57L445.75,191.11L446.2,191.58L446.51,192.13L446.91,192.59L447.28,193.28L447.71,193.48L448.09,193.86L448.46,194.75L448.84,194.86L449.17,195.45L449.55,195.65L449.98,196.18L450.41,196.66L450.92,197.0L451.39,197.96L451.85,198.23L452.32,198.39L452.74,199.01L453.17,199.54L453.57,199.69L454.09,200.0L454.57,200.52L454.96,200.56L455.41,201.72L455.92,201.81L456.47,201.91L456.83,202.25L457.07,202.46L457.62,203.42L458.1,203.02L458.74,203.7L459.22,203.76L460.06,204.91L460.39,204.42L460.94,204.83L461.47,205.32L461.89,205.76L462.48,205.95L462.96,206.23L463.58,206.52L464.0,206.91L464.55,207.14L465.3,207.31L466.0,207.34L466.46,207.67L467.18,208.12L467.65,208.21L468.26,208.31L468.81,208.78L469.45,208.7L469.95,208.9L470.68,209.46L471.16,209.4L471.71,209.3L472.37,209.44L472.83,210.0L473.48,210.46L474.21,210.54L474.63,210.8L475.4,210.46L475.76,210.23L476.47,210.86L477.13,211.32L477.78,211.1L478.24,211.22L478.79,211.5L479.44,211.34L480.12,211.47L480.63,211.9L481.22,211.52L481.89,211.93L482.6,212.22L483.12,212.7L483.78,212.36L484.33,212.98L485.09,212.69L485.58,212.49L486.34,213.34L486.77,213.04L487.55,213.5L488.26,213.55L488.73,213.72L489.32,213.18L490.0,213.61L490.54,213.43L491.27,213.94L491.99,213.8L492.35,214.16L493.16,214.06L493.75,214.07L494.25,213.9L494.95,214.76L495.46,214.7L496.17,214.64L496.82,214.53L497.55,214.87L498.02,215.0L498.6,214.68L499.23,215.35L499.91,214.84L500.7,215.3L501.34,215.46L501.8,215.04L502.58,215.76L503.31,215.79L504.01,215.38L504.91,215.39L505.49,215.9L506.22,215.85L507.06,215.57L507.76,216.11L508.32,216.05L508.78,215.94L509.58,216.61L510.12,216.11L510.43,216.61L511.03,216.46L511.37,216.4" fill="none" stroke="#000" stroke-width="1.2" stroke-linejoin="round" stroke-linecap="round"/>
<text x="492.8" y="207.4" font-size="9.6" textLength="11.3" lengthAdjust="spacingAndGlyphs">WT</text>
<text x="486.8" y="228.5" font-size="9.6" textLength="20.52" lengthAdjust="spacingAndGlyphs">SR-BI</text>
<text x="507.59" y="224.78" font-size="6.84" textLength="6.21" lengthAdjust="spacingAndGlyphs">-/-</text>
<path d="M65.25,285L61.25,285L61.25,398L65.25,398" fill="none" stroke="#000" stroke-width="1" stroke-linejoin="miter" stroke-linecap="butt"/>
<line x1="61.25" y1="341.75" x2="65.25" y2="341.75" stroke="#000" stroke-width="1"/>
<text x="56" y="288.7" font-size="10.7" text-anchor="end" textLength="9.8" lengthAdjust="spacingAndGlyphs">40</text>
<text x="56" y="345" font-size="10.7" text-anchor="end" textLength="9.8" lengthAdjust="spacingAndGlyphs">20</text>
<text x="56.2" y="403.8" font-size="10.7" text-anchor="end" textLength="4.9" lengthAdjust="spacingAndGlyphs">0</text>
<text transform="translate(21,347) rotate(-90)" font-size="12.5" text-anchor="middle" textLength="62" lengthAdjust="spacingAndGlyphs" xml:space="preserve">Aggregation</text>
<text transform="translate(36.4,338.1) rotate(-90)" font-size="12.5" text-anchor="middle" textLength="122.5" lengthAdjust="spacingAndGlyphs" xml:space="preserve">Maximum amplitude (%)</text>
<rect x="87.5" y="298" width="27.5" height="101" fill="#000" stroke="#000" stroke-width="1"/>
<rect x="115" y="330.5" width="27.5" height="68.5" fill="#fff" stroke="#000" stroke-width="1"/>
<line x1="101.5" y1="293" x2="101.5" y2="298" stroke="#000" stroke-width="1.2"/>
<line x1="97.5" y1="293" x2="105.5" y2="293" stroke="#000" stroke-width="1.2"/>
<line x1="129" y1="321.75" x2="129" y2="330.5" stroke="#000" stroke-width="1.2"/>
<line x1="125.0" y1="321.75" x2="133.0" y2="321.75" stroke="#000" stroke-width="1.2"/>
<path d="M100.75,284.0L100.75,279.5L130,279.5L130,284.0" fill="none" stroke="#000" stroke-width="1.2" stroke-linejoin="miter" stroke-linecap="butt"/>
<text x="117.4" y="277.6" font-size="12" font-weight="bold" text-anchor="middle">*</text>
<rect x="138" y="285.5" width="11" height="4.5" fill="#000" stroke="#000" stroke-width="1"/>
<rect x="138" y="298" width="11" height="4.5" fill="#fff" stroke="#000" stroke-width="1"/>
<text x="154.3" y="291.6" font-size="9.8" textLength="12.8" lengthAdjust="spacingAndGlyphs">WT</text>
<text x="154.3" y="304.2" font-size="9.8" textLength="22.27" lengthAdjust="spacingAndGlyphs">SR-BI</text>
<text x="176.86" y="300.48" font-size="7.45" textLength="6.74" lengthAdjust="spacingAndGlyphs">-/-</text>
<text x="93" y="419.5" font-size="11" textLength="19" lengthAdjust="spacingAndGlyphs">ADP</text>
<text x="120.5" y="419.5" font-size="11" textLength="18.8" lengthAdjust="spacingAndGlyphs">1µM</text>
<text transform="translate(286.2,402.05) rotate(-90)" font-size="13.6" textLength="25" lengthAdjust="spacingAndGlyphs">Light</text>
<text transform="translate(286.2,369.55) rotate(-90)" font-size="13.6" textLength="65" lengthAdjust="spacingAndGlyphs">transmission</text>
<text transform="translate(286.2,298.4) rotate(-90)" font-size="13.6" textLength="17.2" lengthAdjust="spacingAndGlyphs">(%)</text>
<text x="296.6" y="256.2" font-size="9.6" textLength="15.8" lengthAdjust="spacingAndGlyphs">ADP</text>
<text x="319" y="256.2" font-size="9.6" textLength="3.8" lengthAdjust="spacingAndGlyphs">1</text>
<text x="329.4" y="256.2" font-size="9.6" textLength="11.2" lengthAdjust="spacingAndGlyphs">µM</text>
<path d="M315.3,278.9L309.2,260.0L315.3,265.2L321.40000000000003,260.0Z" fill="#000"/>
<text x="304.4" y="289.9" font-size="8.5" text-anchor="end" textLength="4.3" lengthAdjust="spacingAndGlyphs">0</text>
<line x1="301.8" y1="293" x2="301.8" y2="381.2" stroke="#000" stroke-width="1.2"/>
<path d="M301.8,393.4L295.8,374.4L301.8,380.2L307.8,374.4Z" fill="#000"/>
<text x="296.5" y="403.9" font-size="9.6" textLength="9.7" lengthAdjust="spacingAndGlyphs">50</text>
<line x1="311.6" y1="391.1" x2="331.5" y2="391.1" stroke="#000" stroke-width="1.2"/>
<text x="310.4" y="386.6" font-size="9.6" textLength="3.6" lengthAdjust="spacingAndGlyphs">1</text>
<text x="319.5" y="386.3" font-size="9.6" textLength="12" lengthAdjust="spacingAndGlyphs">min</text>
<path d="M315,312L315.2,303L315.5,296L315.8,291.8L316.1,294.5L316.4,296.6" fill="none" stroke="#000" stroke-width="1.5" stroke-linejoin="miter" stroke-linecap="round"/>
<path d="M316.4,296.6L316.5,296.18L316.65,295.59L316.82,294.9L317.01,294.21L317.2,293.6L317.45,292.93L317.72,292.29L318.0,291.71L318.3,291.2L318.72,290.61L319.16,290.15L319.6,289.9L320.25,289.99L320.9,290.5L321.22,290.91L321.55,291.42L321.88,292.0L322.2,292.6L322.52,293.22L322.84,293.87L323.16,294.56L323.5,295.3L323.7,295.75L323.86,296.14L324.02,296.54L324.23,297.05L324.55,297.74L325.0,298.7L325.19,299.09L325.4,299.53L325.63,299.99L325.88,300.49L326.14,301.02L326.41,301.58L326.69,302.13L326.99,302.73L327.27,303.31L327.58,303.93L327.89,304.6L328.19,305.18L328.51,305.79L328.8,306.38L329.14,306.93L329.41,307.56L329.7,308.09L329.97,308.64L330.28,309.31L330.6,309.75L330.86,310.3L331.15,311.07L331.5,311.53L331.73,312.2L332.08,312.62L332.4,313.19L332.7,313.68L332.91,314.34L333.19,314.86L333.5,315.5L333.83,316.12L334.08,316.42L334.37,317.04L334.65,317.67L335.01,318.01L335.37,318.44L335.69,319.04L335.97,319.68L336.26,320.12L336.73,320.52L337.03,321.11L337.34,321.49L337.67,322.14L337.92,322.59L338.28,323.08L338.71,323.42L338.98,323.99L339.39,324.89L339.75,325.33L339.95,325.23L340.46,325.68L340.8,326.7L341.29,327.01L341.61,327.74L342.05,328.34L342.42,328.64L343.02,328.69L343.38,329.64L343.64,329.53L344.09,330.07L344.55,330.62L344.95,330.83L345.37,331.77L345.89,332.37L346.24,332.69L346.76,332.88L347.01,333.22L347.62,334.0L347.89,333.96L348.48,334.8L348.88,334.55L349.52,334.99L350.1,335.47L350.36,336.22L350.91,336.49L351.52,336.86L351.86,336.81L352.48,337.66L353.09,337.97L353.67,338.13L354.14,338.36L354.77,338.21L355.29,338.81L355.76,339.51L356.3,339.67L357.03,339.9L357.51,339.81L358.1,340.65L358.57,340.58L359.15,340.46L359.65,341.0L360.18,341.17L360.86,341.72L361.31,341.58L361.92,342.03L362.47,342.58L363.19,342.28L363.72,342.35L364.42,342.69L365.06,343.04L365.59,342.87L366.1,343.35L366.76,343.6L367.22,343.2L367.79,343.5L368.4,343.36L369.12,343.57L369.59,343.86L370.31,343.85L370.88,343.97L371.49,343.81L372.33,344.62L372.99,343.97L373.63,344.75L374.3,344.12L374.93,344.45L375.45,344.58L376.18,344.93L376.84,344.75L377.28,344.81L377.86,344.53L378.63,344.39L379.14,345.08L379.85,344.59L380.56,345.15L381.16,344.64L381.79,345.2L382.3,344.82L382.98,345.24L383.68,344.89L384.4,344.9L384.85,344.8L385.63,345.07L386.29,345.27L386.98,345.33L387.5,345.0L388.08,344.71L388.68,345.02L389.35,345.08L390.21,344.85L390.66,344.52L391.37,344.75L392.0,344.93L392.89,344.97L393.46,344.86L394.18,344.4L394.78,344.52L395.44,344.32L396.17,344.52L396.63,344.65L397.3,344.1L397.86,344.26L398.36,343.9L398.99,343.95L399.61,344.42L400.11,344.29L400.94,344.28L401.64,344.08L402.56,343.89L403.27,343.5L403.9,343.95L404.45,343.63L405.12,343.32L405.43,343.01L405.89,343.48L406.29,342.97" fill="none" stroke="#000" stroke-width="1.25" stroke-linejoin="round" stroke-linecap="round"/>
<path d="M316.4,296.6L316.48,296.15L316.58,295.5L316.71,294.76L316.85,294.03L317.0,293.4L317.27,292.54L317.58,291.79L317.9,291.2L318.39,290.61L318.9,290.4L319.39,290.66L319.9,291.3L320.16,291.75L320.42,292.29L320.69,292.91L321.0,293.6L321.22,294.08L321.43,294.57L321.66,295.1L321.91,295.67L322.19,296.3L322.5,297.0L322.7,297.43L322.9,297.83L323.1,298.24L323.31,298.66L323.53,299.11L323.77,299.61L324.03,300.18L324.32,300.84L324.64,301.61L325.0,302.5L325.16,302.91L325.33,303.35L325.51,303.81L325.69,304.29L325.88,304.8L326.07,305.32L326.28,305.85L326.48,306.41L326.69,306.96L326.91,307.59L327.13,308.12L327.33,308.73L327.56,309.37L327.79,309.98L328.02,310.57L328.24,311.17L328.44,311.88L328.67,312.47L328.94,313.11L329.15,313.76L329.33,314.43L329.59,315.12L329.82,315.49L329.97,316.17L330.2,316.9L330.35,317.41L330.53,317.98L330.76,318.37L330.97,318.86L331.13,319.52L331.34,320.29L331.55,320.96L331.74,321.55L331.97,322.17L332.15,322.43L332.34,323.11L332.55,323.86L332.67,324.18L332.95,325.08L333.01,325.67L333.21,326.2L333.51,326.75L333.73,327.09L333.8,327.98L334.03,328.27L334.25,329.22L334.33,329.34L334.67,329.88L334.82,330.46L335.04,331.06L335.16,331.74L335.46,332.7L335.75,333.2L335.8,334.0L336.06,334.17L336.45,334.89L336.48,335.72L336.89,335.83L337.02,336.82L337.19,337.24L337.47,338.13L337.76,338.73L337.91,338.6L338.29,339.28L338.28,340.16L338.6,340.32L338.89,341.13L339.05,341.58L339.34,341.72L339.4,342.55L339.92,343.17L339.89,343.23L340.24,344.54L340.63,344.75L340.96,345.36L341.4,346.25L341.41,347.35L341.96,347.45L342.28,348.36L342.54,348.64L342.74,348.88L343.25,349.88L343.5,350.55L343.84,350.35L344.07,351.33L344.33,351.7L344.66,352.08L344.95,352.02L345.54,352.87L345.7,353.58L346.02,353.83L346.34,354.45L346.93,354.55L347.15,355.51L347.46,356.09L347.75,356.1L348.21,356.69L348.69,357.6L349.04,358.28L349.56,358.71L349.89,358.24L350.59,359.19L350.97,359.36L351.46,359.85L351.82,359.87L352.24,361.21L352.66,360.92L353.26,361.23L353.76,362.23L354.28,362.29L355.03,362.9L355.33,363.33L356.11,363.78L356.34,363.98L357.12,364.54L357.38,364.33L358.08,364.48L358.67,365.53L359.08,365.86L359.81,365.46L360.24,366.04L360.76,366.3L361.34,365.82L361.98,366.01L362.51,366.52L363.02,367.01L363.55,367.05L364.36,367.76L364.85,368.04L365.6,367.79L365.93,367.64L366.5,367.61L367.05,368.44L367.73,368.66L368.37,368.51L368.99,368.69L369.49,368.9L370.07,369.2L370.84,369.32L371.31,369.54L372.14,369.68L372.52,369.46L373.35,369.67L373.65,369.36L374.46,369.86L374.95,370.3L375.54,370.65L376.11,370.51L376.75,369.81L377.5,369.95L378.02,370.6L378.71,371.11L379.27,370.33L380.14,371.06L380.47,370.5L381.17,371.25L381.87,371.54L382.45,371.21L383.11,371.44L383.88,370.96L384.45,370.75L385.05,370.72L385.75,371.1L386.27,370.72L387.01,371.09L387.54,371.66L388.04,370.83L388.73,370.84L389.28,370.76L390.05,371.29L390.79,370.72L391.27,370.57L391.99,370.44L392.42,371.16L393.23,370.97L393.69,370.39L394.5,370.55L395.06,370.13L395.63,370.54L396.44,370.45L397.14,369.97L397.83,370.05L398.36,370.52L399.35,370.43L399.76,369.72L400.78,369.43L401.45,369.23L402.06,369.3L402.5,369.16L403.07,369.73L403.88,369.28L404.35,369.63L404.5,369.87L405.1,369.01" fill="none" stroke="#000" stroke-width="1.3" stroke-linejoin="round" stroke-linecap="round"/>
<text x="408.75" y="345.3" font-size="9.6" textLength="20.52" lengthAdjust="spacingAndGlyphs">SR-BI</text>
<text x="429.54" y="341.58" font-size="6.84" textLength="6.21" lengthAdjust="spacingAndGlyphs">-/-</text>
<text x="409.5" y="372.8" font-size="9.6" textLength="11" lengthAdjust="spacingAndGlyphs">WT</text>
<path d="M67.75,472.5L63.25,472.5L63.25,614.75L67.75,614.75" fill="none" stroke="#000" stroke-width="1" stroke-linejoin="miter" stroke-linecap="butt"/>
<line x1="63.25" y1="543.75" x2="67.75" y2="543.75" stroke="#000" stroke-width="1"/>
<text x="57.6" y="477.3" font-size="10.7" text-anchor="end" textLength="9.8" lengthAdjust="spacingAndGlyphs">80</text>
<text x="57.6" y="548" font-size="10.7" text-anchor="end" textLength="9.8" lengthAdjust="spacingAndGlyphs">40</text>
<text x="57.8" y="618.4" font-size="10.7" text-anchor="end" textLength="4.9" lengthAdjust="spacingAndGlyphs">0</text>
<text transform="translate(17.8,551.8) rotate(-90)" font-size="12.5" text-anchor="middle" textLength="61.5" lengthAdjust="spacingAndGlyphs" xml:space="preserve">Aggregation</text>
<text transform="translate(33.7,543.2) rotate(-90)" font-size="12.5" text-anchor="middle" textLength="121.5" lengthAdjust="spacingAndGlyphs" xml:space="preserve">Maximum amplitude (%)</text>
<rect x="83.75" y="503.5" width="29.5" height="112" fill="#000" stroke="#000" stroke-width="1"/>
<rect x="113.25" y="541" width="29.75" height="74.5" fill="#fff" stroke="#000" stroke-width="1"/>
<line x1="98" y1="498.5" x2="98" y2="503.5" stroke="#000" stroke-width="1.2"/>
<line x1="91.5" y1="498.5" x2="104.5" y2="498.5" stroke="#000" stroke-width="1.2"/>
<line x1="128" y1="530.25" x2="128" y2="541" stroke="#000" stroke-width="1.2"/>
<line x1="121.25" y1="530.25" x2="134.75" y2="530.25" stroke="#000" stroke-width="1.2"/>
<path d="M98.7,496.5L98.7,492.7L134.2,492.7L134.2,496.5" fill="none" stroke="#000" stroke-width="1.2" stroke-linejoin="miter" stroke-linecap="butt"/>
<text x="116" y="491.8" font-size="12" font-weight="bold" text-anchor="middle">*</text>
<rect x="132.6" y="471.2" width="11.8" height="4.5" fill="#000" stroke="#000" stroke-width="1"/>
<rect x="132.6" y="481.8" width="11.8" height="4.7" fill="#fff" stroke="#000" stroke-width="1.1"/>
<text x="150" y="477.5" font-size="9.8" textLength="13.2" lengthAdjust="spacingAndGlyphs">WT</text>
<text x="149.8" y="488.8" font-size="9.8" textLength="22.27" lengthAdjust="spacingAndGlyphs">SR-BI</text>
<text x="172.36" y="485.08" font-size="7.45" textLength="6.74" lengthAdjust="spacingAndGlyphs">-/-</text>
<text x="74.5" y="634" font-size="11" textLength="41" lengthAdjust="spacingAndGlyphs">Convulxin</text>
<text x="124" y="634" font-size="11" textLength="16" lengthAdjust="spacingAndGlyphs">500</text>
<text x="147.5" y="634" font-size="11" textLength="26.5" lengthAdjust="spacingAndGlyphs">ng/mL</text>
<text transform="translate(288.5,602.05) rotate(-90)" font-size="13.6" textLength="25" lengthAdjust="spacingAndGlyphs">Light</text>
<text transform="translate(288.5,569.55) rotate(-90)" font-size="13.6" textLength="65" lengthAdjust="spacingAndGlyphs">transmission</text>
<text transform="translate(288.5,498.4) rotate(-90)" font-size="13.6" textLength="17.2" lengthAdjust="spacingAndGlyphs">(%)</text>
<text x="300.2" y="450.8" font-size="9.6" textLength="15.8" lengthAdjust="spacingAndGlyphs">CVX</text>
<text x="322" y="450.8" font-size="9.6" textLength="13" lengthAdjust="spacingAndGlyphs">500</text>
<text x="341.6" y="450.8" font-size="9.6" textLength="22.6" lengthAdjust="spacingAndGlyphs">ng/mL</text>
<path d="M318.1,478.6L312.0,459.8L318.1,465.0L324.20000000000005,459.8Z" fill="#000"/>
<text x="303" y="505.2" font-size="8.5" text-anchor="end" textLength="4.3" lengthAdjust="spacingAndGlyphs">0</text>
<line x1="300.5" y1="507.3" x2="300.5" y2="582.5999999999999" stroke="#000" stroke-width="1.2"/>
<path d="M300.5,594.8L294.5,575.8L300.5,581.5999999999999L306.5,575.8Z" fill="#000"/>
<text x="296.7" y="604.8" font-size="9.6" textLength="9.6" lengthAdjust="spacingAndGlyphs">50</text>
<line x1="314.2" y1="589" x2="335" y2="589" stroke="#000" stroke-width="1.5"/>
<text x="313.2" y="584.7" font-size="9.6" textLength="3.6" lengthAdjust="spacingAndGlyphs">1</text>
<text x="322.2" y="584.7" font-size="9.6" textLength="11.8" lengthAdjust="spacingAndGlyphs">min</text>
<path d="M310.0,505.7L310.52,505.56L311.26,505.37L312.0,505.3L312.67,505.5L313.33,505.81L314.0,506.0L314.69,505.9L315.39,505.67L316.0,505.5L316.75,506.12L317.3,505.5L317.35,505.16L317.39,504.74L317.43,504.27L317.46,503.74L317.49,503.17L317.51,502.55L317.53,501.9L317.55,501.22L317.57,500.52L317.59,499.81L317.6,499.09L317.62,498.37L317.63,497.66L317.65,496.96L317.66,496.28L317.68,495.62L317.7,495.0L317.72,494.32L317.74,493.58L317.76,492.79L317.78,491.97L317.8,491.13L317.82,490.29L317.84,489.46L317.86,488.66L317.87,487.89L317.89,487.19L317.91,486.56L317.93,486.01L317.95,485.57L317.96,485.24L317.98,485.05L318.0,485.0L318.02,485.09L318.03,485.3L318.05,485.62L318.06,486.03L318.08,486.53L318.1,487.11L318.11,487.75L318.13,488.45L318.14,489.19L318.16,489.96L318.18,490.75L318.19,491.56L318.21,492.36L318.23,493.15L318.24,493.92L318.26,494.66L318.28,495.36L318.3,496.0L318.32,496.63L318.34,497.28L318.35,497.95L318.36,498.65L318.38,499.35L318.39,500.06L318.41,500.76L318.42,501.47L318.44,502.16L318.46,502.83L318.47,503.48L318.5,504.11L318.52,504.71L318.55,505.26L318.58,505.77L318.62,506.24L318.66,506.65L318.7,507.0L319.25,507.93L320.0,507.5L320.62,507.59L321.33,507.63L322.0,507.6L322.6,507.61L323.18,507.55L323.75,507.0L323.97,506.61L324.18,506.14L324.4,505.6L324.61,504.99L324.83,504.32L325.04,503.6L325.27,502.82L325.5,502.0L325.64,501.49L325.77,500.94L325.91,500.34L326.05,499.72L326.2,499.07L326.34,498.4L326.48,497.73L326.63,497.06L326.78,496.4L326.92,495.75L327.07,495.13L327.21,494.55L327.36,494.0L327.5,493.5L327.75,492.69L328.0,491.92L328.25,491.2L328.5,490.54L328.75,489.96L329.0,489.47L329.25,489.08L329.5,488.8L330.17,488.62L330.83,489.1L331.5,490.0L331.74,490.41L331.98,490.87L332.21,491.39L332.45,491.97L332.69,492.61L332.94,493.33L333.21,494.12L333.5,495.0L333.66,495.48L333.82,495.99L333.99,496.53L334.17,497.1L334.35,497.7L334.54,498.31L334.73,498.94L334.92,499.58L335.11,500.23L335.3,500.89L335.48,501.54L335.66,502.19L335.83,502.84L336.0,503.47L336.15,504.1L336.3,504.7L336.44,505.32L336.58,505.93L336.7,506.53L336.82,507.12L336.93,507.71L337.04,508.29L337.14,508.87L337.24,509.46L337.34,510.06L337.44,510.67L337.54,511.29L337.65,511.94L337.76,512.6L337.87,513.29L338.0,514.0L338.09,514.53L338.19,515.08L338.29,515.65L338.39,516.23L338.5,516.83L338.6,517.44L338.71,518.06L338.82,518.68L338.93,519.31L339.04,519.94L339.15,520.58L339.26,521.22L339.37,521.85L339.48,522.48L339.59,523.1L339.69,523.72L339.8,524.32L339.9,524.91L340.0,525.49L340.1,526.05L340.2,526.6L340.32,527.29L340.44,527.96L340.56,528.61L340.67,529.24L340.78,529.86L340.89,530.47L340.99,531.09L341.11,531.67L341.21,532.29L341.33,532.85L341.43,533.47L341.53,534.03L341.64,534.63L341.76,535.22L341.88,535.86L341.99,536.49L342.12,537.12L342.24,537.73L342.37,538.37L342.48,539.02L342.6,539.61L342.74,540.25L342.85,540.89L342.97,541.54L343.09,542.25L343.25,542.84L343.37,543.42L343.48,544.06L343.6,544.65L343.75,545.34L343.84,545.94L343.97,546.48L344.1,547.02L344.28,547.67L344.42,548.29L344.56,549.11L344.73,549.7L344.86,550.26L344.99,550.98L345.14,551.58L345.3,552.13L345.43,552.75L345.58,553.32L345.73,553.8L345.89,554.38L346.02,554.99L346.16,555.67L346.29,556.24L346.46,557.05L346.61,557.57" fill="none" stroke="#000" stroke-width="0.9" stroke-linejoin="round" stroke-linecap="round"/>
<path d="M346.61,557.57L346.73,558.26L346.92,558.69L347.06,559.37L347.23,560.08L347.32,560.69L347.55,561.15L347.67,561.9L347.86,562.31L348.07,562.92L348.29,563.79L348.46,564.31L348.77,564.92L348.94,565.66L349.19,566.2L349.34,566.91L349.58,567.47L349.77,567.97L349.98,568.45L350.2,569.14L350.51,569.69L350.69,570.21L350.93,571.06L351.16,571.44L351.38,572.23L351.75,572.73L351.99,573.16L352.27,573.97L352.44,574.3L352.74,574.87L353.0,575.56L353.34,575.96L353.58,576.75L353.93,577.1L354.2,578.0L354.65,578.65L355.03,578.92L355.22,579.36L355.59,580.11L355.94,580.48L356.33,581.24L356.66,581.19L357.0,582.01L357.36,582.81L357.84,583.09L358.13,583.59L358.59,584.15L358.95,584.77L359.16,585.04L359.65,585.72L360.06,586.22L360.38,586.19L360.95,586.61L361.19,587.06L361.73,588.03L362.18,587.81L362.55,588.77L363.05,588.54L363.48,589.25L364.03,590.18L364.35,590.46L365.01,590.33L365.61,590.34L365.87,590.94L366.37,591.32L366.98,592.2L367.47,592.2L367.98,592.08L368.68,593.24L369.08,593.57L369.58,593.26L370.25,593.93L370.84,594.19L371.37,594.64L371.87,595.18L372.52,595.62L372.97,595.06L373.52,595.85L374.01,596.19L374.66,596.19L375.14,596.51L375.61,597.31L376.22,597.25L376.72,597.53L377.12,597.43L377.54,598.3L378.1,598.81L378.7,598.83L379.41,599.44L380.0,599.6L380.58,599.71L380.98,599.57L381.51,600.35L382.09,600.67L382.64,600.1L383.48,601.02L383.99,600.89L384.66,600.97L385.04,601.63L385.82,601.24L386.47,601.45L386.9,601.93L387.54,602.44L388.1,602.64L388.76,603.2L389.3,603.34L390.14,603.5L390.45,603.29L391.22,603.46L391.78,603.49L392.34,603.53L392.92,604.34L393.41,604.46L394.0,604.77L394.85,605.03L395.3,605.21L395.84,604.71L396.47,605.33L396.94,605.66L397.76,605.37L398.25,605.64L398.72,605.28L399.53,605.62L399.92,606.35L400.45,606.58L401.32,606.41L401.9,606.31L402.22,606.78L402.93,606.61L403.6,606.68L404.2,606.76L404.58,607.04L405.17,607.45L405.97,607.59L406.46,607.78L407.06,607.36L407.69,607.56L408.26,607.74L408.79,608.09L409.31,608.53L410.13,608.17L410.72,608.46L411.22,609.13L411.7,608.53L412.3,609.38L413.01,609.11L413.58,608.85L414.18,609.01L414.73,609.46L415.34,609.25L415.86,609.37L416.71,609.51L417.35,609.88L418.03,609.49L418.66,610.07L419.33,610.26L420.08,610.03L420.46,610.03L421.08,609.99L421.65,610.56L422.22,611.01L422.91,610.79L423.75,610.89L424.22,611.09L425.08,610.71L425.61,611.53L426.51,611.26L427.11,611.54L427.83,611.61L428.38,611.81L429.17,611.9L429.71,611.45L430.53,611.36L430.94,611.86L431.5,611.59L432.04,611.5L432.75,611.69L433.13,612.41L433.42,611.94L433.87,612.28" fill="none" stroke="#000" stroke-width="1.3" stroke-linejoin="round" stroke-linecap="round"/>
<path d="M310.0,505.7L310.52,505.56L311.26,505.37L312.0,505.3L312.67,505.5L313.33,505.81L314.0,506.0L314.69,505.9L315.39,505.67L316.0,505.5L316.75,506.12L317.3,505.5L317.35,505.16L317.39,504.74L317.43,504.27L317.46,503.74L317.49,503.17L317.51,502.55L317.53,501.9L317.55,501.22L317.57,500.52L317.59,499.81L317.6,499.09L317.62,498.37L317.63,497.66L317.65,496.96L317.66,496.28L317.68,495.62L317.7,495.0L317.72,494.32L317.74,493.58L317.76,492.79L317.78,491.97L317.8,491.13L317.82,490.29L317.84,489.46L317.86,488.66L317.87,487.89L317.89,487.19L317.91,486.56L317.93,486.01L317.95,485.57L317.96,485.24L317.98,485.05L318.0,485.0L318.02,485.09L318.03,485.3L318.05,485.62L318.06,486.03L318.08,486.53L318.1,487.11L318.11,487.75L318.13,488.45L318.14,489.19L318.16,489.96L318.18,490.75L318.19,491.56L318.21,492.36L318.23,493.15L318.24,493.92L318.26,494.66L318.28,495.36L318.3,496.0L318.32,496.63L318.34,497.28L318.35,497.95L318.36,498.65L318.38,499.35L318.39,500.06L318.41,500.76L318.42,501.47L318.44,502.16L318.46,502.83L318.47,503.48L318.5,504.11L318.52,504.71L318.55,505.26L318.58,505.77L318.62,506.24L318.66,506.65L318.7,507.0L319.25,507.93L320.0,507.5L320.62,507.59L321.33,507.63L322.0,507.6L322.58,507.5L323.14,507.33L323.75,507.0L324.16,506.75L324.6,506.47L325.06,506.12L325.53,505.65L326.0,505.0L326.24,504.59L326.48,504.1L326.73,503.56L326.98,502.98L327.23,502.38L327.49,501.76L327.74,501.15L328.0,500.56L328.25,500.0L328.5,499.5L328.86,498.84L329.21,498.21L329.57,497.61L329.93,497.04L330.29,496.5L330.64,495.99L331.0,495.5L331.42,494.95L331.85,494.44L332.28,493.96L332.7,493.52L333.11,493.13L333.5,492.8L334.2,492.32L334.85,492.04L335.5,491.9L336.15,491.87L336.8,491.99L337.5,492.3L337.94,492.57L338.39,492.89L338.87,493.3L339.4,493.82L340.0,494.5L340.31,494.87L340.64,495.29L340.98,495.75L341.34,496.24L341.72,496.75L342.1,497.28L342.48,497.82L342.87,498.37L343.25,498.92L343.63,499.47L344.0,500.0L344.33,500.48L344.67,500.96L345.0,501.45L345.33,501.94L345.67,502.44L346.0,502.92L346.33,503.43L346.67,503.96L346.99,504.46L347.34,504.98L347.67,505.51L348.01,506.03L348.33,506.54L348.68,507.1L348.99,507.65L349.33,508.21L349.65,508.76L350.01,509.32L350.35,509.78L350.65,510.33L350.99,510.92L351.36,511.49L351.68,512.08L352.02,512.58L352.32,513.17L352.64,513.72L352.9,514.12L353.25,514.69L353.55,515.13L353.87,515.77L354.15,516.07L354.43,516.59L354.76,517.32L355.07,517.78L355.36,518.22L355.72,518.74L355.98,519.34L356.29,519.69L356.61,520.4L356.95,520.91L357.25,521.24L357.57,521.73L357.82,522.3L358.14,523.1L358.51,523.35L358.81,524.01L359.08,524.44L359.39,525.17L359.65,525.7L359.96,526.14L360.27,526.55L360.73,526.94L361.05,527.61L361.33,528.05L361.69,528.52L362.03,529.41L362.42,529.71L362.72,530.48L363.05,530.59L363.43,531.28L363.71,531.74L363.98,532.37L364.4,532.88L364.74,533.65L365.18,533.88L365.51,534.23L365.82,535.11L366.2,535.49L366.55,536.27L366.78,536.7L367.16,536.96L367.67,537.89L367.96,537.86L368.2,538.63L368.69,539.01L368.95,539.68L369.31,540.26L369.69,540.61L370.1,541.41L370.47,541.78L370.88,541.97L371.18,542.68L371.43,542.84L371.96,543.56L372.24,544.2L372.65,544.22L372.96,545.21L373.34,545.58L373.7,545.75L374.15,546.21L374.67,547.15L374.94,547.09L375.34,548.11L375.78,548.13L376.14,548.46L376.57,549.13L376.96,550.01L377.51,549.96L377.91,550.62L378.33,551.23L378.62,551.48L379.12,552.27L379.6,552.59L379.95,553.18L380.53,553.35L380.84,553.9L381.28,554.4L381.69,554.92L382.26,555.38L382.8,555.47L383.11,555.82L383.64,556.09L384.12,556.97L384.61,557.14L384.96,557.33L385.58,558.13L385.96,558.53L386.32,559.02L386.81,559.53L387.16,559.5L387.61,560.22L388.21,560.2L388.68,560.87L389.38,561.43L389.97,561.54L390.39,561.77L390.92,562.37L391.32,562.78L391.79,562.91L392.35,563.14L392.86,563.83L393.35,563.71L393.86,564.47L394.49,564.91L395.04,565.14L395.61,565.41L396.14,565.39L396.7,566.12L397.15,566.15L397.88,566.7L398.31,566.78L398.84,567.04L399.57,567.65L399.97,568.01L400.47,568.22L401.07,568.59L401.69,568.27L402.17,568.63L402.77,568.83L403.4,569.42L403.96,569.31L404.39,569.59L404.97,570.19L405.57,570.21L406.17,570.35L406.74,570.57L407.23,571.2L407.84,570.87L408.33,571.07L408.8,571.55L409.49,571.89L409.98,572.06L410.6,572.21L411.24,572.21L411.8,572.93L412.26,573.09L412.77,573.28L413.35,573.1L414.03,573.25L414.55,573.59L415.06,573.49L415.66,573.69L416.34,573.7L416.86,574.07L417.52,574.0L418.04,574.15L418.75,574.55L419.4,574.98L420.09,575.11L420.6,575.08L421.08,574.74L421.84,574.82L422.44,575.44L423.04,575.25L423.78,575.3L424.4,576.0L425.07,575.46L425.92,575.8L426.52,576.23L427.13,575.85L427.94,576.0L428.64,576.33L429.23,576.74L429.83,576.53L430.25,576.38L430.86,576.77L431.3,576.6L431.87,576.54L432.27,577.09L432.49,577.34" fill="none" stroke="#000" stroke-width="1.1" stroke-linejoin="round" stroke-linecap="round"/>
<text x="437" y="578.05" font-size="9.6" textLength="20.52" lengthAdjust="spacingAndGlyphs">SR-BI</text>
<text x="457.79" y="574.33" font-size="6.84" textLength="6.21" lengthAdjust="spacingAndGlyphs">-/-</text>
<text x="438" y="617.3" font-size="9.6" textLength="11" lengthAdjust="spacingAndGlyphs">WT</text>
</svg>
</body>
</html>
